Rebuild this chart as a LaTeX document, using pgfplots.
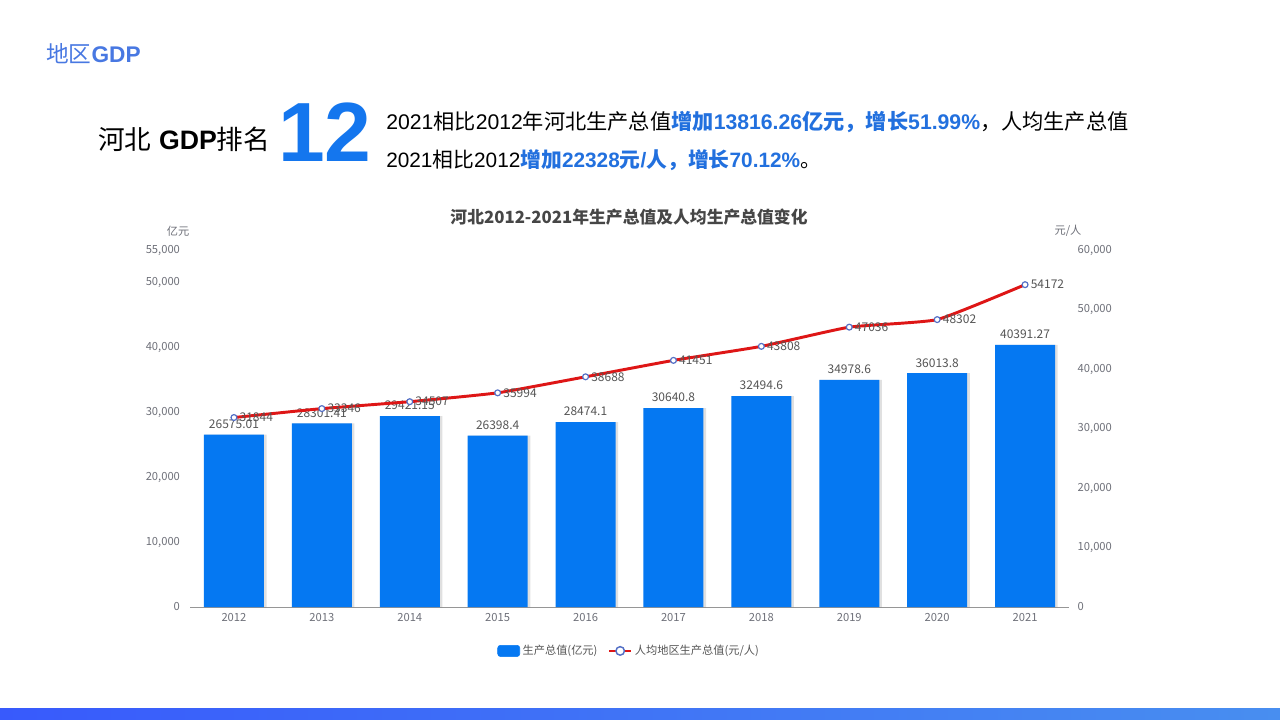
\documentclass[border=0pt]{standalone}
\usepackage{fontspec}
\usepackage{pgfplots}
\usepackage{pgfplotstable}
\pgfplotsset{compat=1.18}
\setmainfont{Liberation Sans}
\newfontfamily\cjk{Noto Sans CJK SC}

\definecolor{barblue}{RGB}{5,120,242}
\definecolor{bignum}{RGB}{20,118,238}
\definecolor{hlblue}{RGB}{34,112,222}
\definecolor{secblue}{RGB}{72,120,226}
\definecolor{linered}{RGB}{222,22,22}
\definecolor{markblue}{RGB}{84,112,198}
\definecolor{tickgray}{RGB}{110,112,121}
\definecolor{labgray}{RGB}{85,85,85}
\definecolor{titlegray}{RGB}{70,70,70}
\definecolor{axisgray}{RGB}{150,150,150}
\definecolor{stripL}{RGB}{56,90,252}
\definecolor{stripR}{RGB}{72,142,240}

\newcommand\hl[1]{\textcolor{hlblue}{\bfseries #1}}

% GDP (100 million yuan) and GDP per capita (yuan), Hebei 2012-2021
\pgfplotstableread{
x  gdp       glab
0  26575.01  26575.01
1  28301.41  28301.41
2  29421.15  29421.15
3  26398.4   26398.4
4  28474.1   28474.1
5  30640.8   30640.8
6  32494.6   32494.6
7  34978.6   34978.6
8  36013.8   36013.8
9  40391.27  40391.27
}\gdptable
\pgfplotstableread{
x  pc     plab
0  31844  31844
1  33346  33346
2  34507  34507
3  35994  35994
4  38688  38688
5  41451  41451
6  43808  43808
7  47036  47036
8  48302  48302
9  54172  54172
}\pctable

\pgfplotsset{
  chartbase/.style={
    scale only axis, width=659.25pt, height=267.75pt,
    at={(142.5pt,-455.25pt)}, anchor=south west,
    xmin=-0.5, xmax=9.5, ymin=0,
    major tick length=0pt,
    scaled y ticks=false,
    /pgf/number format/assume math mode=true,
    tick label style={font=\cjk\fontsize{8.4pt}{10pt}\selectfont, text=tickgray},
    yticklabel style={/pgf/number format/fixed, /pgf/number format/1000 sep={,}},
  },
}

\begin{document}
\begin{tikzpicture}
\begin{scope}[x=0.75pt,y=-0.75pt]
\path[use as bounding box, fill=white] (0,0) rectangle (1280,720);
\shade[left color=stripL, right color=stripR] (0,708) rectangle (1280,720);

% header
\node[anchor=base west, inner sep=0, text=secblue] at (46,63)
  {\fontsize{17pt}{19pt}\selectfont{\cjk 地区}\bfseries GDP};
\node[anchor=base west, inner sep=0] at (98,150)
  {\fontsize{20pt}{22pt}\selectfont{\cjk 河北} \textbf{GDP}{\cjk 排名}};
\node[anchor=base west, inner sep=0, text=bignum] at (278,162)
  {\fontsize{63pt}{66pt}\selectfont\bfseries 12};
\node[anchor=base west, inner sep=0] at (386,130)
  {\fontsize{15.9pt}{18pt}\selectfont 2021{\cjk 相比}2012{\cjk 年河北生产总值}\hl{{\cjk 增加}13816.26{\cjk 亿元，增长}51.99\%}{\cjk ，人均生产总值}};
\node[anchor=base west, inner sep=0] at (386,168)
  {\fontsize{15.6pt}{18pt}\selectfont 2021{\cjk 相比}2012\hl{{\cjk 增加}22328{\cjk 元}/{\cjk 人，增长}70.12\%}{\cjk 。}};

% chart title and axis units
\node[text=titlegray] at (629,217)
  {\cjk\bfseries\fontsize{12.6pt}{14pt}\selectfont 河北2012-2021年生产总值及人均生产总值变化};
\node[text=tickgray] at (178,231) {\cjk\fontsize{8.4pt}{10pt}\selectfont 亿元};
\node[text=tickgray] at (1068,231) {\cjk\fontsize{8.4pt}{10pt}\selectfont 元/人};
\end{scope}

% bars: GDP
\begin{axis}[chartbase,
  ymax=55000,
  ytick={0,10000,20000,30000,40000,50000,55000},
  xtick={0,...,9},
  xticklabels={2012,2013,2014,2015,2016,2017,2018,2019,2020,2021},
  axis x line=bottom, axis y line=left,
  x axis line style={draw=axisgray, line width=0.6pt, -},
  y axis line style={draw=none},
  yticklabel style={xshift=-4pt},
  xticklabel style={yshift=-1pt},
]
% soft shadow on the right of each bar
\addplot[ybar, bar width=46.5pt, bar shift=1.2pt, fill=black, fill opacity=0.12, draw=none]
  table[x=x, y=gdp] {\gdptable};
\addplot[ybar, bar width=45pt, bar shift=0pt, fill=barblue, draw=none,
  nodes near coords, point meta=explicit symbolic,
  every node near coord/.append style={font=\cjk\fontsize{9pt}{10pt}\selectfont, text=labgray, anchor=south, yshift=1pt}]
  table[x=x, y=gdp, meta=glab] {\gdptable};
\end{axis}

% line: GDP per capita
\begin{axis}[chartbase,
  ymax=60000,
  ytick={0,10000,...,60000},
  axis y line=right, axis x line=none,
  y axis line style={draw=none},
  yticklabel style={xshift=3pt},
  legend style={at={(0.5,-0.123)}, anchor=center, draw=none, fill=none,
    legend columns=2, font=\cjk\fontsize{8.4pt}{10pt}\selectfont, text=labgray,
    /tikz/every even column/.append style={column sep=6pt}},
  legend cell align=left,
]
\addlegendimage{legend image code/.code={\fill[barblue, rounded corners=2pt] (0pt,-4.2pt) rectangle (16.5pt,4.2pt);}}
\addlegendentry{生产总值(亿元)}
\addplot[color=linered, line width=2.2pt, smooth, tension=0.25,
  mark=*, mark size=2.2pt, mark options={fill=white, draw=markblue, line width=0.9pt},
  nodes near coords, point meta=explicit symbolic,
  every node near coord/.append style={font=\cjk\fontsize{9pt}{10pt}\selectfont, text=labgray, anchor=west, xshift=0.5pt},
  legend image code/.code={
    \draw[linered, line width=1.6pt] (0pt,0pt) -- (16.5pt,0pt);
    \draw[markblue, fill=white, line width=1.1pt] (8.25pt,0pt) circle (3.2pt);}]
  table[x=x, y=pc, meta=plab] {\pctable};
\addlegendentry{人均地区生产总值(元/人)}
\end{axis}
\end{tikzpicture}
\end{document}
